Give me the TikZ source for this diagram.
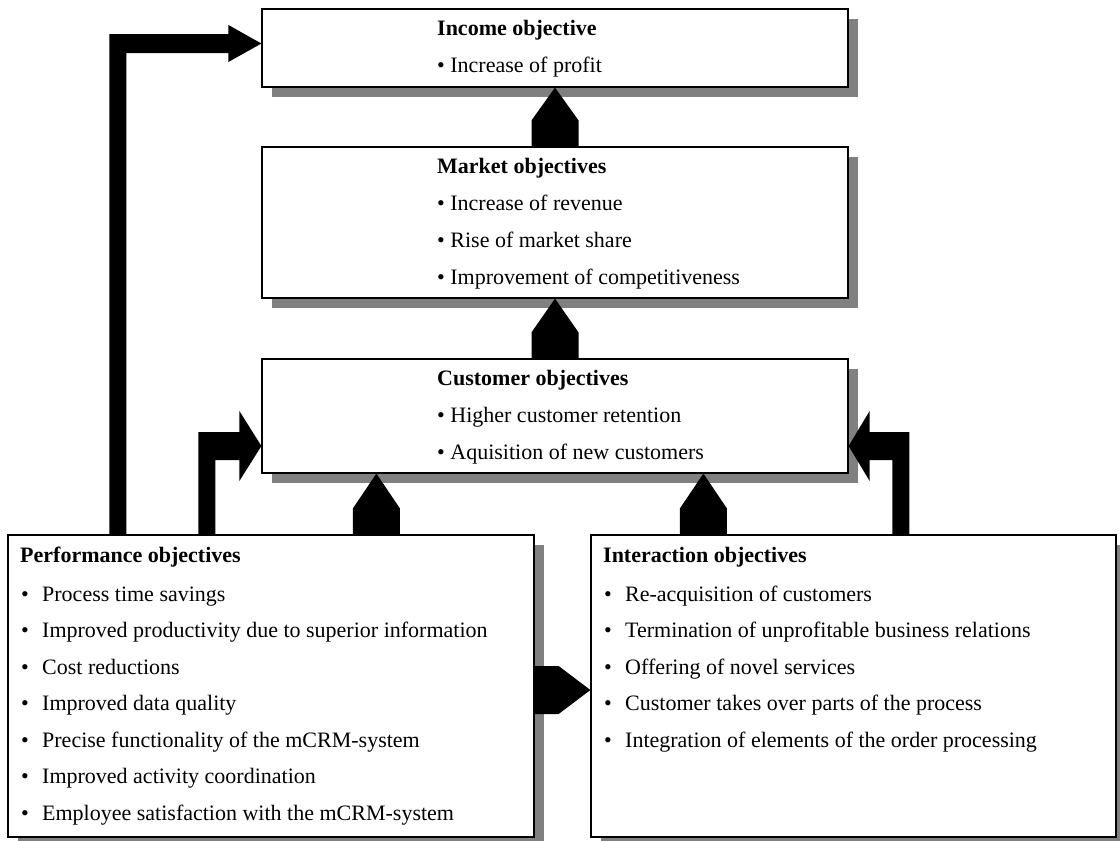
\documentclass[tikz,border=0pt]{standalone}
\usepackage{fontspec}
\setmainfont{Liberation Serif}
\usetikzlibrary{calc,shadows}

\tikzset{
  objbox/.style={draw, fill=white, line width=1.2pt, inner sep=0pt,
    drop shadow={shadow xshift=10pt, shadow yshift=-10pt, fill=gray, opacity=1}},
  headline/.style={anchor=base west, inner sep=0pt, font=\fontsize{22pt}{26pt}\selectfont\bfseries},
  itemline/.style={anchor=base west, inner sep=0pt, font=\fontsize{22pt}{26pt}\selectfont},
}

\begin{document}
\begin{tikzpicture}[x=1pt,y=-1pt]
  \useasboundingbox (0,0) rectangle (1120,841);
  % boxes
  \node[objbox, minimum width=586pt, minimum height=78pt] (income) at (555,48) {};
  \node[objbox, minimum width=586pt, minimum height=151pt] (market) at (555,222.5) {};
  \node[objbox, minimum width=586pt, minimum height=114pt] (customer) at (555,416) {};
  \node[objbox, minimum width=526pt, minimum height=302pt] (perf) at (271,686) {};
  \node[objbox, minimum width=525pt, minimum height=302pt] (inter) at (853.5,686) {};

  % upper texts
  \node[headline] (income-h) at (437,35) {Income objective};
  \node[itemline] (income-1) at (437,72) {\textbullet\ Increase of profit};
  \node[headline] (market-h) at (437,173) {Market objectives};
  \foreach \txt [count=\i] in {Increase of revenue, Rise of market share, Improvement of competitiveness}
    \node[itemline] (market-\i) at (437,173+37*\i) {\textbullet\ \txt};
  \node[headline] (customer-h) at (437,385) {Customer objectives};
  \foreach \txt [count=\i] in {Higher customer retention, Aquisition of new customers}
    \node[itemline] (customer-\i) at (437,385+37*\i) {\textbullet\ \txt};

  % lower texts
  \node[headline] (perf-h) at (20,562) {Performance objectives};
  \foreach \txt [count=\i] in {Process time savings, Improved productivity due to superior information,
      Cost reductions, Improved data quality, Precise functionality of the mCRM-system,
      Improved activity coordination, Employee satisfaction with the mCRM-system}
    \node[itemline] (perf-\i) at (21,564.5+36.5*\i) {\makebox[21pt][l]{\textbullet}\txt};
  \node[headline] (inter-h) at (603,562) {Interaction objectives};
  \foreach \txt [count=\i] in {Re-acquisition of customers, Termination of unprofitable business relations,
      Offering of novel services, Customer takes over parts of the process,
      Integration of elements of the order processing}
    \node[itemline] (inter-\i) at (604,564.5+36.5*\i) {\makebox[21pt][l]{\textbullet}\txt};

  % block arrows
  \coordinate (pc) at ($(perf.north west)+(369,0)$);
  \coordinate (ic) at ($(inter.north west)+(113,0)$);
  \coordinate (pct) at (pc |- customer.south);
  \coordinate (ict) at (ic |- customer.south);
  \foreach \s/\t in {market.north/income.south, customer.north/market.south, pc/pct, ic/ict}
    \fill ($(\s)+(-23.5,0)$) -- ++(0,-26) -- (\t) -- ($(\s)+(23.5,-26)$) -- ++(0,26) -- cycle;

  \coordinate (pe) at ($(perf.east)+(0,4)$);
  \coordinate (ie) at (pe -| inter.west);
  \fill ($(pe)+(0,-24)$) -- ++(24,0) -- (ie) -- ($(pe)+(24,24)$) -- ++(-24,0) -- cycle;

  % elbow arrows
  \coordinate (pa) at ($(perf.north west)+(102,0)$);
  \coordinate (incin) at ($(income.west)+(0,-4.5)$);
  \fill (pa) |- ($(incin)+(-33,-9.5)$) -- ++(0,-9) -- (incin) -- ++(-33,18.5) -- ++(0,-9) -| ($(pa)+(17,0)$) -- cycle;

  \coordinate (pb) at ($(perf.north west)+(191,0)$);
  \coordinate (cl) at ($(customer.west)+(0,30)$);
  \fill (pb) |- ($(cl)+(-22,-14)$) -- ++(0,-21) -- (cl) -- ++(-22,35) -- ++(0,-21) -| ($(pb)+(17,0)$) -- cycle;

  \coordinate (ib) at ($(inter.north west)+(319,0)$);
  \coordinate (cr) at ($(customer.east)+(0,30)$);
  \fill (ib) |- ($(cr)+(21,-14)$) -- ++(0,-21) -- (cr) -- ++(21,35) -- ++(0,-21) -| ($(ib)+(-17,0)$) -- cycle;
\end{tikzpicture}
\end{document}
